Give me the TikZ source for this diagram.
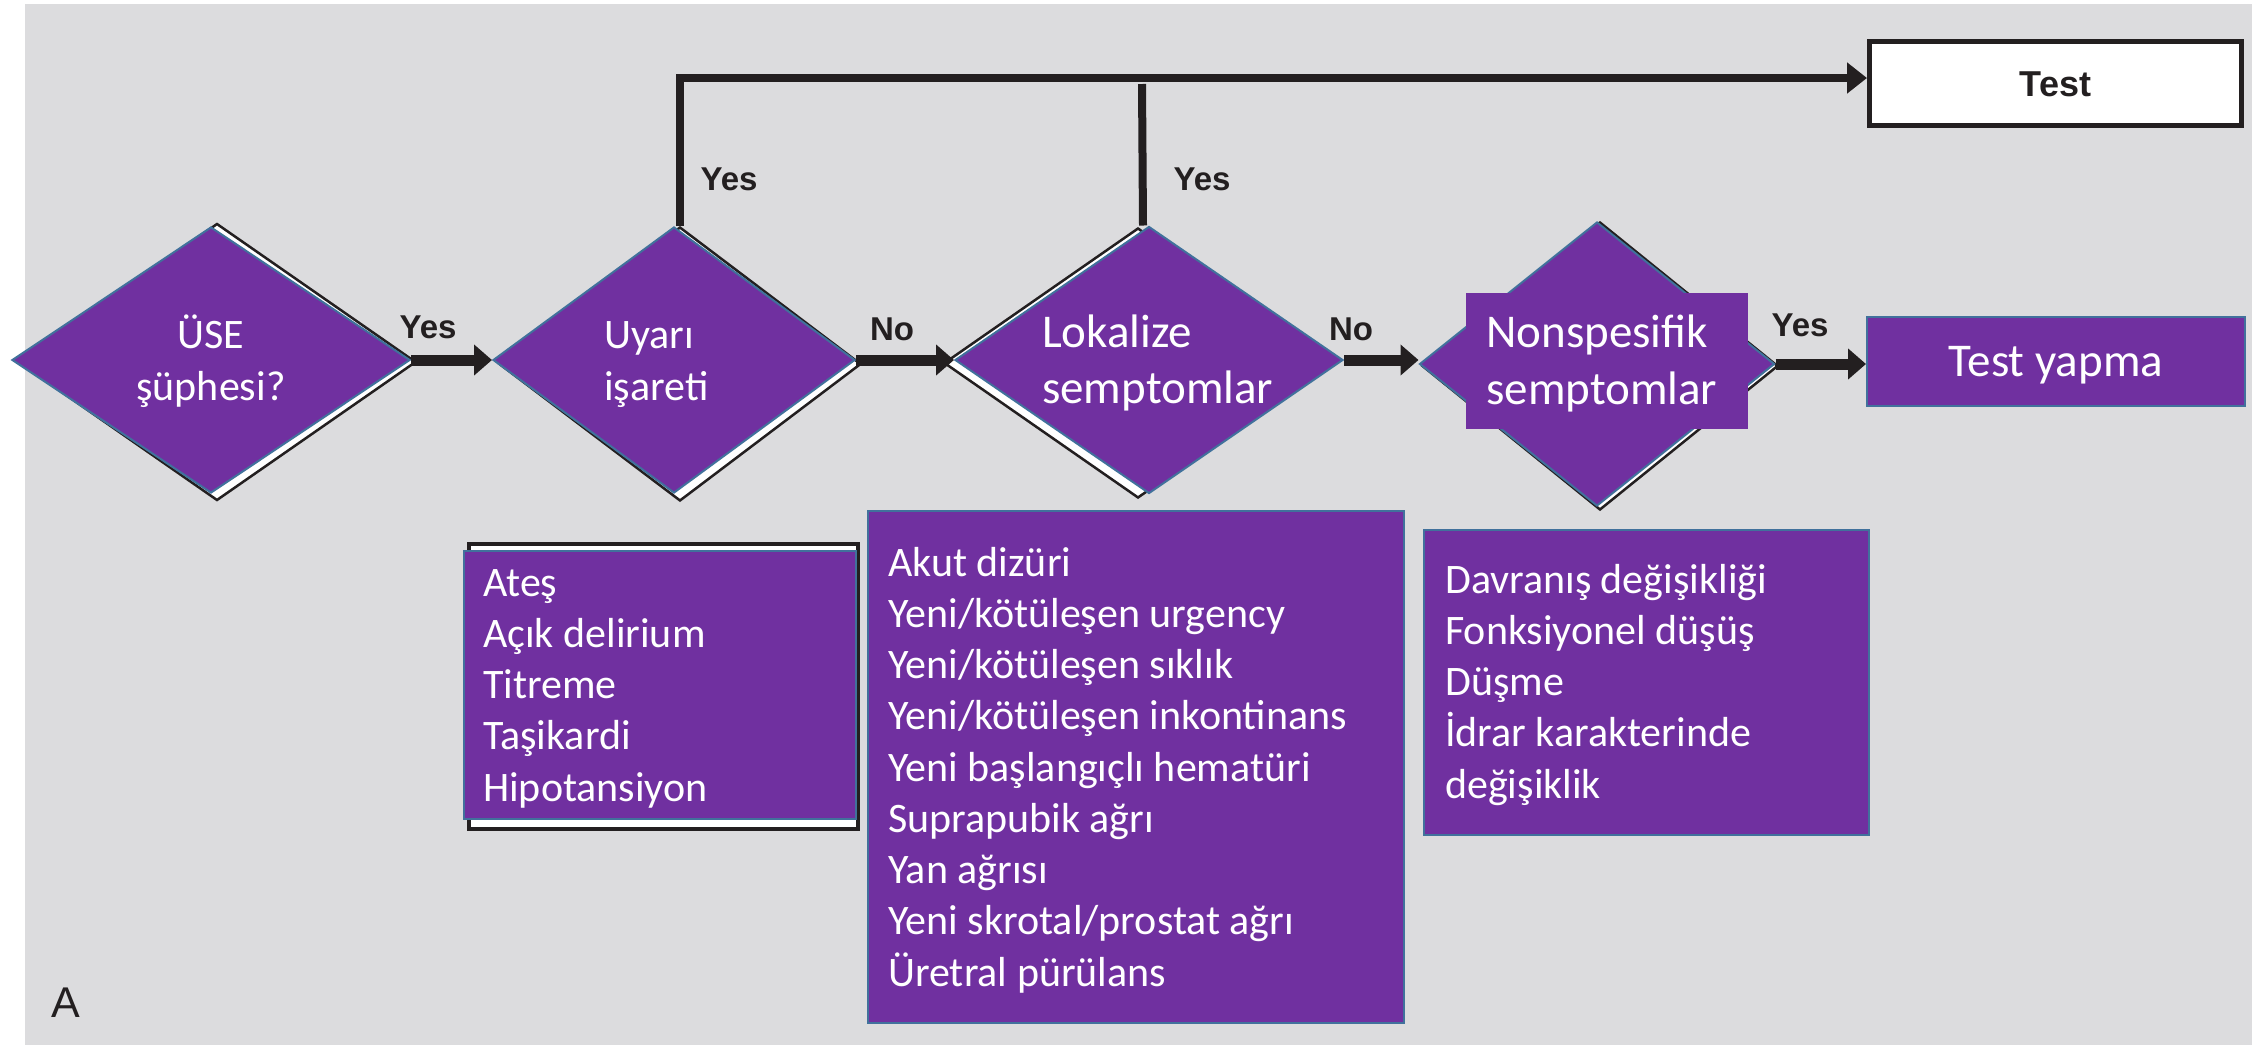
\documentclass[tikz,border=0pt]{standalone}
\usepackage{fontspec}
\setmainfont{Carlito}
\newfontfamily\lblfont{Liberation Sans}
\usetikzlibrary{shapes.geometric,arrows.meta}
\definecolor{bgray}{HTML}{DCDCDE}
\definecolor{purp}{HTML}{7030A0}
\definecolor{bordb}{HTML}{41719C}
\definecolor{ink}{HTML}{231F20}
\begin{document}
\begin{tikzpicture}[x=1pt,y=-1pt,
  dia/.style={diamond, fill=purp, draw=bordb, line width=2pt, inner sep=0pt},
  diash/.style={diamond, fill=white, draw=ink, line width=2.5pt, inner sep=0pt},
  pbox/.style={rectangle, fill=purp, draw=bordb, line width=2pt, inner sep=0pt, anchor=north west},
  btxt/.style={text=white, inner sep=0pt, anchor=base west, font=\fontsize{42}{51.25}\selectfont},
  dtxt/.style={text=white, inner sep=0pt, anchor=base west},
  lbl/.style={text=ink, inner sep=0pt, anchor=base, font=\lblfont\bfseries\fontsize{33}{40}\selectfont},
  conn/.style={draw=ink, line width=11pt, -{Triangle[length=18pt,width=30pt]}},
  yesline/.style={draw=ink, line width=8pt},
]
\useasboundingbox (0,0) rectangle (2252,1045);
\fill[white] (0,0) rectangle (2252,1045);
\fill[bgray] (25,4) rectangle (2252,1045);

% diamond shadows
\node[diash, minimum width=398pt, minimum height=277pt] (s1) at (217,362) {};
\node[diash, minimum width=362pt, minimum height=274pt] (s2) at (680,364) {};
\node[diash, minimum width=388pt, minimum height=270pt] (s3) at (1138,363) {};
\node[diash, minimum width=356pt, minimum height=288pt] (s4) at (1600,366) {};

% diamonds
\node[dia, minimum width=398pt, minimum height=266pt] (d1) at (211,360) {};
\node[dia, minimum width=362pt, minimum height=266pt] (d2) at (674,360) {};
\node[dia, minimum width=388pt, minimum height=267pt] (d3) at (1149,360) {};
\node[dia, minimum width=355pt, minimum height=284pt] (d4) at (1597,364) {};
\node[fill=purp, inner sep=0pt, minimum width=282pt, minimum height=136pt, anchor=north west] (r4) at (1466,293) {};

% diamond texts
\node[text=white, inner sep=0pt, anchor=base, font=\fontsize{42}{52}\selectfont] (t1) at (211,348)
  {\begin{tabular}[t]{@{}c@{}}ÜSE\\şüphesi?\end{tabular}};
\node[dtxt, font=\fontsize{42}{52}\selectfont] (t2) at (604,348)
  {\begin{tabular}[t]{@{}l@{}}Uyarı\\işareti\end{tabular}};
\node[dtxt, font=\fontsize{47}{56}\selectfont] (t3) at (1042,347)
  {\begin{tabular}[t]{@{}l@{}}Lokalize\\semptomlar\end{tabular}};
\node[dtxt, font=\fontsize{47}{57}\selectfont] (t4) at (1486,347)
  {\begin{tabular}[t]{@{}l@{}}Nonspesifik\\semptomlar\end{tabular}};

% boxes
\node[rectangle, fill=white, draw=ink, line width=4pt, inner sep=0pt, anchor=north west,
  minimum width=389pt, minimum height=285pt] (b1s) at (467,542) {};
\node[pbox, minimum width=392pt, minimum height=268pt] (b1) at (463,550) {};
\node[btxt] (bt1) at (483,596)
  {\begin{tabular}[t]{@{}l@{}}Ateş\\Açık delirium\\Titreme\\Taşikardi\\Hipotansiyon\end{tabular}};

\node[pbox, minimum width=536pt, minimum height=512pt] (b2) at (867,510) {};
\node[btxt] (bt2) at (888,576)
  {\begin{tabular}[t]{@{}l@{}}Akut dizüri\\Yeni/kötüleşen urgency\\Yeni/kötüleşen sıklık\\Yeni/kötüleşen inkontinans\\Yeni başlangıçlı hematüri\\Suprapubik ağrı\\Yan ağrısı\\Yeni skrotal/prostat ağrı\\Üretral pürülans\end{tabular}};

\node[pbox, minimum width=445pt, minimum height=305pt] (b3) at (1423,529) {};
\node[btxt] (bt3) at (1445,593)
  {\begin{tabular}[t]{@{}l@{}}Davranış değişikliği\\Fonksiyonel düşüş\\Düşme\\İdrar karakterinde\\değişiklik\end{tabular}};

% outcome boxes
\node[pbox, anchor=center, minimum width=378pt, minimum height=89pt, text=white,
  font=\fontsize{47}{56}\selectfont, text height=30pt, text depth=0pt] (ty) at (2056,361.5) {Test yapma};
\node[rectangle, draw=ink, fill=white, line width=5pt, inner sep=0pt, minimum width=372pt, minimum height=84pt,
  text=ink, font=\lblfont\bfseries\fontsize{36}{42}\selectfont, text height=26pt, text depth=0pt] (test) at (2055.5,83.5) {Test};

% connectors
\draw[conn] (d1.east) -- (d2.west);
\draw[conn] (d2.east) -- (d3.west);
\draw[conn] (d3.east) -- (d3.east -| d4.west);
\draw[conn] (d4.east) -- (d4.east -| ty.west);
\coordinate (j2) at (1142,84);
\draw[yesline, -{Triangle[length=20pt,width=30pt]}] ([xshift=6pt]d2.north) |- ([yshift=5.5pt]test.west);
\draw[yesline] ([xshift=-6pt]d3.north) -- (j2);

% labels
\node[lbl] (l1) at (428,338) {Yes};
\node[lbl] (l2) at (892,340) {No};
\node[lbl] (l3) at (1351,340) {No};
\node[lbl] (l4) at (1800,336) {Yes};
\node[lbl] (l5) at (729,190) {Yes};
\node[lbl] (l6) at (1202,190) {Yes};
\node[text=ink, inner sep=0pt, anchor=base, font=\lblfont\fontsize{43}{50}\selectfont] (lA) at (66,1017) {A};
\end{tikzpicture}
\end{document}
